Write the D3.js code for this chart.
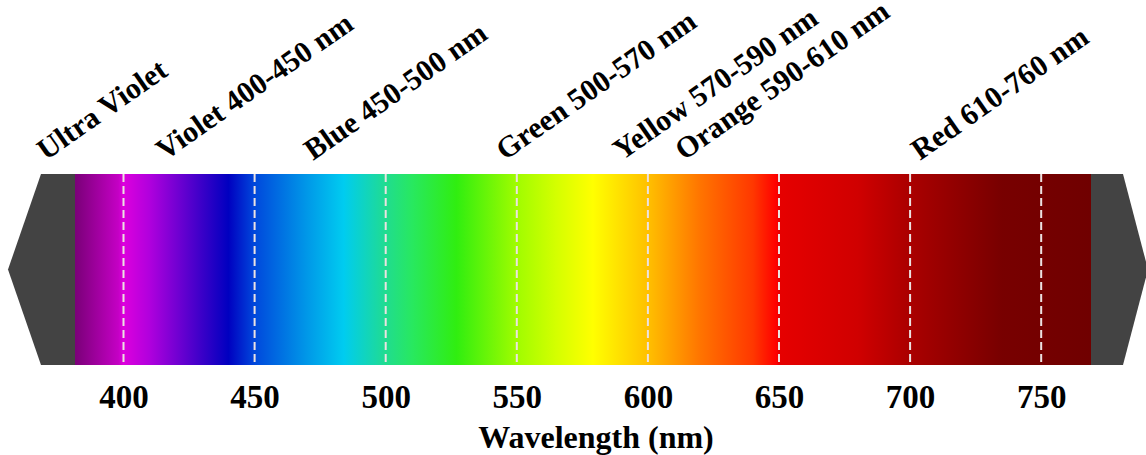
<!DOCTYPE html>
<html>
<head>
<meta charset="utf-8">
<script src="https://cdn.jsdelivr.net/npm/d3@7"></script>
<style>
  body { margin: 0; background: #fff; }
  #chart { width: 1146px; height: 455px; }
</style>
</head>
<body>
<div id="chart"></div>
<script>
// wavelength range covered by the colour band
var wlRange = [381.5, 769];
// tick values along the bottom
var tickValues = [400, 450, 500, 550, 600, 650, 700, 750];
// gradient stops: wavelength -> colour
var stopNm = [381.5, 398, 400, 410, 430, 440, 450, 470, 484, 500, 510, 527, 550, 565, 579, 600, 620, 640, 649, 650, 680, 700, 735, 769];
var stopColor = ['#7a0078', '#c400c4', '#dd00dd', '#b000dd', '#3a00c8', '#0000c0', '#0048dc', '#0098e8', '#00ccf0', '#20dc90', '#28e860', '#30ee10', '#a0fc00', '#d4ff00', '#ffff00', '#ffc000', '#ff7400', '#ff3800', '#ff0000', '#e60000', '#d00000', '#aa0000', '#780000', '#700000'];
// band names and where their rotated label starts (nm)
var bandNames = ['Ultra Violet', 'Violet 400-450 nm', 'Blue 450-500 nm', 'Green 500-570 nm', 'Yellow 570-590 nm', 'Orange 590-610 nm', 'Red 610-760 nm'];
var bandLabelAt = [370.4, 415.8, 472.3, 545.5, 590.1, 613.8, 703.8];

function drawSpectrum(divname) {
    var svgWidth = 1146;
    var svgHeight = 455;
    var svg = d3.select('#' + divname)
        .append('svg')
        .attr('width', svgWidth)
        .attr('height', svgHeight);

    var bandTop = 174;
    var bandBottom = 365;
    var bandMid = (bandTop + bandBottom) / 2;
    var serif = '"Liberation Serif", "Times New Roman", serif';

    var x = d3.scaleLinear()
        .domain(wlRange)
        .range([75, 1091]);

    // gradient across the band
    var grad = svg.append('defs').append('linearGradient')
        .attr('id', 'specGrad')
        .attr('gradientUnits', 'userSpaceOnUse')
        .attr('x1', x(wlRange[0])).attr('x2', x(wlRange[1]))
        .attr('y1', 0).attr('y2', 0);
    grad.selectAll('stop')
        .data(d3.zip(stopNm, stopColor))
        .enter()
        .append('stop')
        .attr('offset', function (d) { return (d[0] - wlRange[0]) / (wlRange[1] - wlRange[0]); })
        .attr('stop-color', function (d) { return d[1]; });

    // dark arrow ends
    var x0 = x(wlRange[0]), x1 = x(wlRange[1]);
    svg.append('path')
        .attr('d', 'M' + x0 + ',' + bandTop + 'L' + (x0 - 34) + ',' + bandTop + 'L' + (x0 - 67) + ',' + bandMid +
            'L' + (x0 - 34) + ',' + bandBottom + 'L' + x0 + ',' + bandBottom + 'Z')
        .attr('fill', '#434343');
    svg.append('path')
        .attr('d', 'M' + x1 + ',' + bandTop + 'L' + (x1 + 32) + ',' + bandTop + 'L' + (x1 + 57) + ',' + bandMid +
            'L' + (x1 + 32) + ',' + bandBottom + 'L' + x1 + ',' + bandBottom + 'Z')
        .attr('fill', '#434343');

    svg.append('rect')
        .attr('x', x0)
        .attr('y', bandTop)
        .attr('width', x1 - x0)
        .attr('height', bandBottom - bandTop)
        .attr('fill', 'url(#specGrad)');

    // dashed lines at every tick
    svg.append('g').selectAll('line')
        .data(tickValues)
        .enter()
        .append('line')
        .attr('x1', function (d) { return x(d); })
        .attr('x2', function (d) { return x(d); })
        .attr('y1', bandTop)
        .attr('y2', bandBottom)
        .style('stroke', '#ece2e2')
        .style('stroke-width', 2)
        .style('stroke-dasharray', '8,4');

    // x axis, labels only
    var gx = svg.append('g')
        .attr('transform', 'translate(0,' + (bandBottom + 20) + ')');
    gx.call(d3.axisBottom(x).tickValues(tickValues).tickSize(0).tickPadding(0));
    gx.select('.domain').remove();
    gx.selectAll('text')
        .attr('dy', '0.71em')
        .style('font-family', serif)
        .style('font-weight', 'bold')
        .style('font-size', '33px')
        .style('fill', '#000');

    svg.append('text')
        .attr('x', (x0 + x1) / 2 + 13)
        .attr('y', 448)
        .attr('text-anchor', 'middle')
        .style('font-family', serif)
        .style('font-weight', 'bold')
        .style('font-size', '32px')
        .text('Wavelength (nm)');

    // rotated band names
    svg.append('g').selectAll('text')
        .data(bandNames)
        .enter()
        .append('text')
        .attr('transform', function (d, i) {
            return 'translate(' + x(bandLabelAt[i]) + ',161) rotate(-35)';
        })
        .style('font-family', serif)
        .style('font-weight', 'bold')
        .style('font-size', '30px')
        .text(function (d) { return d; });
}

drawSpectrum('chart');
</script>
</body>
</html>
